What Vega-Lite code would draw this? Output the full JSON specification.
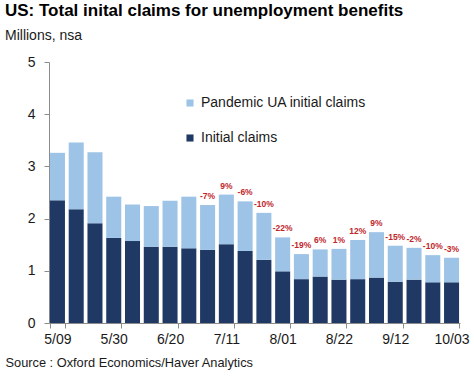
{
  "$schema": "https://vega.github.io/schema/vega-lite/v6.json",
  "autosize": "none",
  "width": 411,
  "height": 261,
  "padding": {"left": 49, "top": 62, "right": 14, "bottom": 55},
  "background": "white",
  "config": {
    "view": {"stroke": null},
    "font": "Liberation Sans",
    "axis": {"labelFont": "Liberation Sans", "titleFont": "Liberation Sans", "labelColor": "#1a1a1a", "domainColor": "#8c8c8c", "tickColor": "#8c8c8c", "grid": false},
    "legend": {"labelFont": "Liberation Sans"}
  },
  "title": {
    "text": "US: Total inital claims for unemployment benefits",
    "subtitle": "Millions, nsa",
    "anchor": "start",
    "frame": "group",
    "dx": -44,
    "offset": 11,
    "fontSize": 17,
    "fontWeight": "bold",
    "color": "#000000",
    "subtitleFontSize": 14,
    "subtitleColor": "#1a1a1a",
    "subtitlePadding": 9
  },
  "data": {
    "values": [
      {"week": "5/09", "initial": 2.35, "pandemic": 0.91, "total": 3.26, "pct": ""},
      {"week": "5/16", "initial": 2.18, "pandemic": 1.28, "total": 3.46, "pct": ""},
      {"week": "5/23", "initial": 1.91, "pandemic": 1.36, "total": 3.27, "pct": ""},
      {"week": "5/30", "initial": 1.63, "pandemic": 0.79, "total": 2.42, "pct": ""},
      {"week": "6/06", "initial": 1.57, "pandemic": 0.70, "total": 2.27, "pct": ""},
      {"week": "6/13", "initial": 1.46, "pandemic": 0.78, "total": 2.24, "pct": ""},
      {"week": "6/20", "initial": 1.46, "pandemic": 0.88, "total": 2.34, "pct": ""},
      {"week": "6/27", "initial": 1.43, "pandemic": 0.99, "total": 2.42, "pct": ""},
      {"week": "7/04", "initial": 1.40, "pandemic": 0.86, "total": 2.26, "pct": "-7%"},
      {"week": "7/11", "initial": 1.51, "pandemic": 0.95, "total": 2.46, "pct": "9%"},
      {"week": "7/18", "initial": 1.38, "pandemic": 0.95, "total": 2.33, "pct": "-6%"},
      {"week": "7/25", "initial": 1.21, "pandemic": 0.90, "total": 2.11, "pct": "-10%"},
      {"week": "8/01", "initial": 0.99, "pandemic": 0.65, "total": 1.64, "pct": "-22%"},
      {"week": "8/08", "initial": 0.84, "pandemic": 0.48, "total": 1.32, "pct": "-19%"},
      {"week": "8/15", "initial": 0.89, "pandemic": 0.52, "total": 1.41, "pct": "6%"},
      {"week": "8/22", "initial": 0.83, "pandemic": 0.59, "total": 1.42, "pct": "1%"},
      {"week": "8/29", "initial": 0.84, "pandemic": 0.75, "total": 1.59, "pct": "12%"},
      {"week": "9/05", "initial": 0.87, "pandemic": 0.87, "total": 1.74, "pct": "9%"},
      {"week": "9/12", "initial": 0.79, "pandemic": 0.69, "total": 1.48, "pct": "-15%"},
      {"week": "9/19", "initial": 0.83, "pandemic": 0.61, "total": 1.44, "pct": "-2%"},
      {"week": "9/26", "initial": 0.78, "pandemic": 0.52, "total": 1.30, "pct": "-10%"},
      {"week": "10/03", "initial": 0.78, "pandemic": 0.47, "total": 1.25, "pct": "-3%"}
    ]
  },
  "encoding": {
    "x": {
      "field": "week",
      "type": "nominal",
      "sort": null,
      "scale": {"paddingInner": 0.2, "paddingOuter": 0.05},
      "axis": {
        "values": ["5/09", "5/30", "6/20", "7/11", "8/01", "8/22", "9/12", "10/03"],
        "tickBand": "extent",
        "labelAngle": 0,
        "labelFontSize": 14,
        "labelPadding": 4,
        "tickSize": 5,
        "title": "Source : Oxford Economics/Haver Analytics",
        "titleFontSize": 12.8,
        "titleFontWeight": "normal",
        "titleColor": "#1a1a1a",
        "titleX": -44,
        "titleY": 39,
        "titleAlign": "left",
        "titleBaseline": "middle"
      }
    }
  },
  "layer": [
    {
      "transform": [{"fold": ["initial", "pandemic"], "as": ["series", "value"]}],
      "mark": {"type": "bar"},
      "encoding": {
        "y": {
          "field": "value",
          "type": "quantitative",
          "stack": "zero",
          "scale": {"domain": [0, 5]},
          "axis": {"values": [0, 1, 2, 3, 4, 5], "labelFontSize": 14, "tickSize": 5, "labelPadding": 9, "title": null}
        },
        "color": {
          "field": "series",
          "type": "nominal",
          "scale": {"domain": ["pandemic", "initial"], "range": ["#9dc3e6", "#1f3864"]},
          "legend": {
            "title": null,
            "orient": "none",
            "legendX": 134,
            "legendY": 34,
            "symbolType": "square",
            "symbolSize": 50,
            "labelFontSize": 14,
            "labelColor": "#1a1a1a",
            "labelOffset": 4,
            "labelLimit": 300,
            "rowPadding": 21,
            "labelExpr": "datum.value == 'pandemic' ? 'Pandemic UA initial claims' : 'Initial claims'"
          }
        },
        "order": {"field": "series", "sort": "ascending"}
      }
    },
    {
      "mark": {"type": "text", "baseline": "middle", "dy": -9, "fontSize": 8.5, "fontWeight": "bold", "color": "#c0272d"},
      "encoding": {
        "y": {"field": "total", "type": "quantitative"},
        "text": {"field": "pct"}
      }
    }
  ]
}
